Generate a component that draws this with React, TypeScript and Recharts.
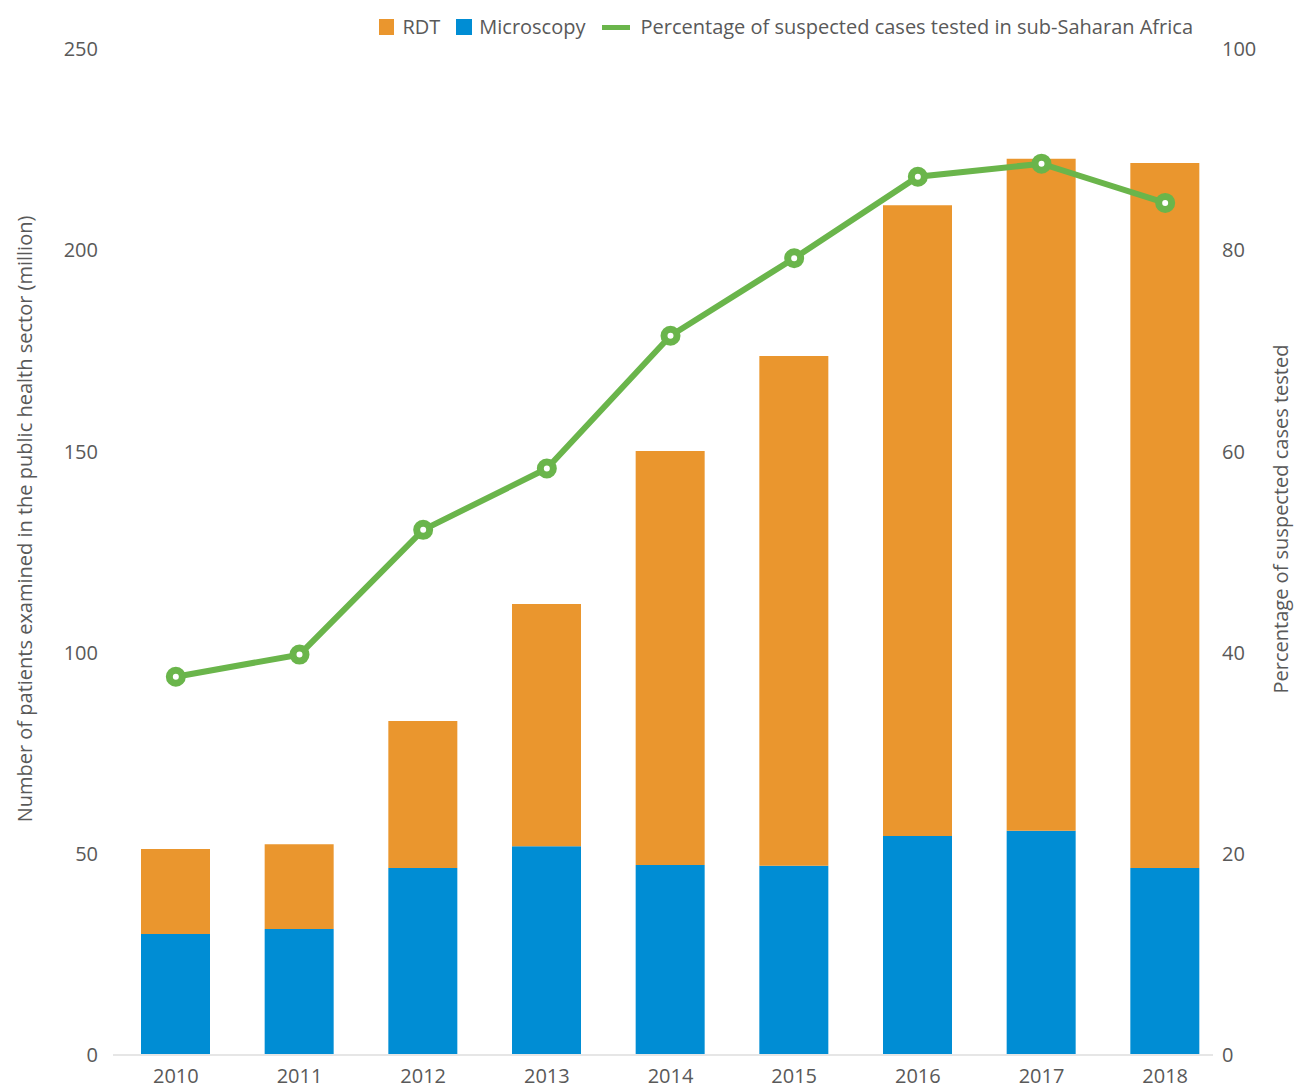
import React from "react";
import {
  ComposedChart, Bar, Line, XAxis, YAxis, Label,
} from "recharts";

const years = ["2010", "2011", "2012", "2013", "2014", "2015", "2016", "2017", "2018"];
const microscopy = [30.1, 31.3, 46.5, 51.9, 47.2, 47.0, 54.4, 55.7, 46.5];
const rdt = [21.1, 21.1, 36.5, 60.2, 102.9, 126.7, 156.8, 167.0, 175.2];
const pctTested = [37.6, 39.8, 52.2, 58.3, 71.5, 79.2, 87.3, 88.6, 84.7];

const leftTicks = [0, 50, 100, 150, 200, 250];
const rightTicks = [0, 20, 40, 60, 80, 100];

const ORANGE = "#ea962e";
const BLUE = "#008dd4";
const GREEN = "#6ab54b";
const TEXT = "#595959";
const FONT = "'Open Sans', Lato, sans-serif";

const data = years.map((y, i) => ({
  year: y,
  micro: microscopy[i],
  rdt: rdt[i],
  pct: pctTested[i],
}));

// rotated axis titles, centred a bit above the plot middle like the original
function AxisTitle({ viewBox, value, dx }: any) {
  const x = viewBox.x + dx;
  const y = 519;
  return (
    <text
      x={x} y={y} transform={`rotate(-90 ${x} ${y})`}
      textAnchor="middle" dominantBaseline="central"
      fill={TEXT} fontSize={20} fontFamily={FONT}
    >
      {value}
    </text>
  );
}

function LegendRow() {
  const item = { display: "flex", alignItems: "center", marginRight: 16 } as const;
  return (
    <div
      style={{
        position: "absolute", top: 14, right: 101, display: "flex",
        fontFamily: FONT, fontSize: 20, color: TEXT, lineHeight: "26px",
      }}
    >
      <div style={item}>
        <span style={{ width: 15, height: 16, background: ORANGE, marginRight: 8 }} />
        RDT
      </div>
      <div style={item}>
        <span style={{ width: 16, height: 16, background: BLUE, marginRight: 7 }} />
        Microscopy
      </div>
      <div style={{ ...item, marginRight: 0 }}>
        <span style={{ width: 28, height: 5, background: GREEN, marginRight: 11 }} />
        Percentage of suspected cases tested in sub-Saharan Africa
      </div>
    </div>
  );
}

export default function App() {
  const tick = { fontSize: 20, fill: TEXT, fontFamily: FONT };
  return (
    <div style={{ position: "absolute", left: 0, top: 0, width: 1294, height: 1090, background: "#fff" }}>
      <ComposedChart
        width={1294} height={1090} data={data}
        margin={{ top: 49, right: 0, bottom: 0, left: 0 }}
      >
        <XAxis
          dataKey="year" height={35} tick={tick}
          tickLine={false} tickSize={0} tickMargin={14}
          axisLine={{ stroke: "#e6e6e6", strokeWidth: 2 }}
          padding={{ left: 1, right: -14 }}
          interval={0}
        />
        <YAxis
          yAxisId="left" orientation="left" width={113}
          domain={[0, 250]} ticks={leftTicks} tick={tick}
          axisLine={false} tickLine={false} tickSize={0} tickMargin={15}
        >
          <Label
            content={(p: any) => (
              <AxisTitle viewBox={p.viewBox}
                value="Number of patients examined in the public health sector (million)" dx={24} />
            )}
          />
        </YAxis>
        <YAxis
          yAxisId="right" orientation="right" width={81}
          domain={[0, 100]} ticks={rightTicks} tick={{ ...tick, textAnchor: "start" }}
          axisLine={false} tickLine={false} tickSize={0} tickMargin={9}
        >
          <Label
            content={(p: any) => (
              <AxisTitle viewBox={p.viewBox} value="Percentage of suspected cases tested" dx={67} />
            )}
          />
        </YAxis>
        <Bar yAxisId="left" dataKey="micro" stackId="a" fill={BLUE} barSize={69} isAnimationActive={false} />
        <Bar yAxisId="left" dataKey="rdt" stackId="a" fill={ORANGE} barSize={69} isAnimationActive={false} />
        <Line
          yAxisId="right" dataKey="pct" type="linear"
          stroke={GREEN} strokeWidth={6}
          dot={{ r: 6.5, fill: "#fff", stroke: GREEN, strokeWidth: 7 }}
          activeDot={false}
          isAnimationActive={false}
        />
      </ComposedChart>
      <LegendRow />
    </div>
  );
}
